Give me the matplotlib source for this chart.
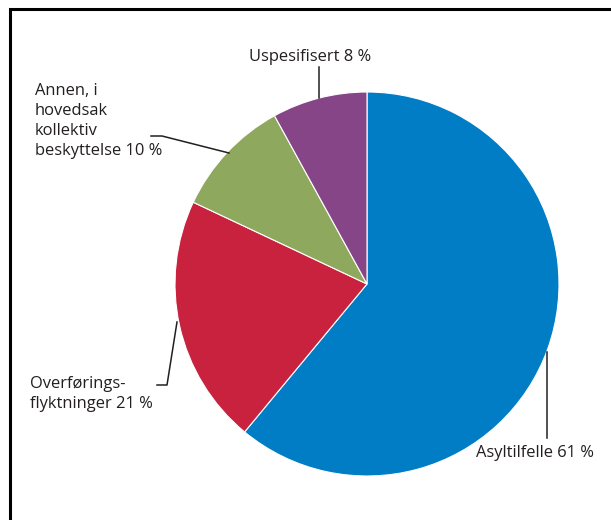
import matplotlib.pyplot as plt

# andel per kategori, i prosent
kategorier = ["Asyltilfelle", "Overførings-\nflyktninger", "Annen, i\nhovedsak\nkollektiv\nbeskyttelse", "Uspesifisert"]
andeler = [61, 21, 10, 8]
farger = ["#007dc5", "#c8223f", "#8ea95d", "#864587"]

W, H = 611, 520
fig = plt.figure(figsize=(W / 100, H / 100), dpi=100)
ax = fig.add_axes([0, 0, 1, 1])
ax.set_xlim(0, W)
ax.set_ylim(0, H)
ax.set_aspect("equal")
ax.axis("off")

cx, cy, r = 367, H - 284, 192
ax.pie(andeler, colors=farger, startangle=90, counterclock=False,
       center=(cx, cy), radius=r, frame=True,
       wedgeprops=dict(edgecolor="white", linewidth=0.8))
ax.set_xlim(0, W)
ax.set_ylim(0, H)
ax.axis("off")

# ramme oppe og til venstre
ax.plot([10, 10, W], [0, H - 9, H - 9], color="black", lw=2.2, solid_joinstyle="miter")

tekst = [f"{k} {v} %" for k, v in zip(kategorier, andeler)]
fs = 11.9
font = "Open Sans"
kw = dict(fontsize=fs, family=font, color="#231f20", linespacing=1.33)

ax.text(476, H - 453, tekst[0], ha="left", va="center", **kw)
ax.text(30, H - 394, tekst[1], ha="left", va="center", **kw)
ax.text(35, H - 121, tekst[2], ha="left", va="center", **kw)
ax.text(310, H - 57, tekst[3], ha="center", va="center", **kw)

# linjer fra etikett til sektor
lk = dict(color="#231f20", lw=1.1)
ax.plot([547, 547], [H - 438, H - 352], **lk)
ax.plot([157, 167, 177], [H - 385, H - 385, H - 322], **lk)
ax.plot([151, 162, 229], [H - 136, H - 136, H - 153], **lk)
ax.plot([319, 319], [H - 67, H - 98], **lk)

fig.savefig("out.png", dpi=100)
